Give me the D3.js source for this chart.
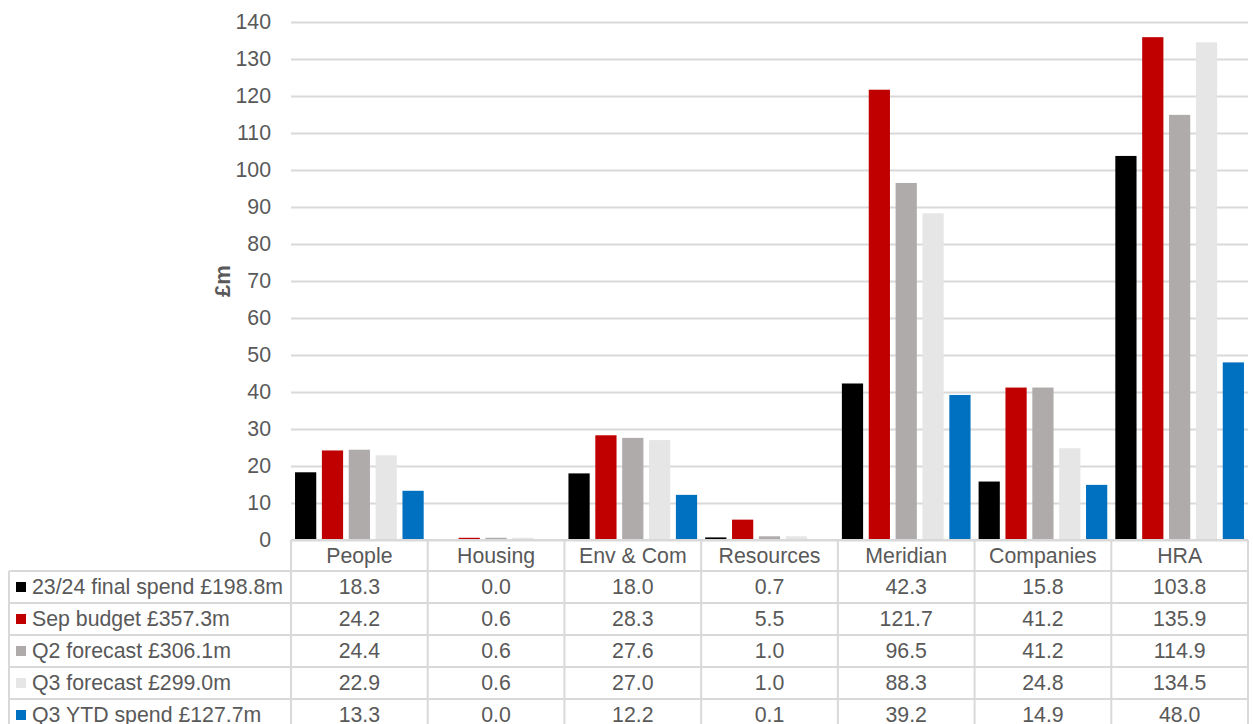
<!DOCTYPE html>
<html><head><meta charset="utf-8">
<script src="https://cdn.jsdelivr.net/npm/d3@7"></script>
<style>body{margin:0;background:#fff;}svg{display:block;font-family:"Liberation Sans",Arial,sans-serif;}</style>
</head><body>
<svg id="chart" width="1253" height="724"></svg>
<script>
const categories = ["People","Housing","Env & Com","Resources","Meridian","Companies","HRA"];
const seriesNames = ["23/24 final spend £198.8m","Sep budget £357.3m","Q2 forecast £306.1m","Q3 forecast £299.0m","Q3 YTD spend £127.7m"];
const seriesColors = ["#000000","#c00000","#afabab","#e7e6e6","#0070c0"];
const finalSpend = [18.3,0.0,18.0,0.7,42.3,15.8,103.8];
const sepBudget = [24.2,0.6,28.3,5.5,121.7,41.2,135.9];
const q2Forecast = [24.4,0.6,27.6,1.0,96.5,41.2,114.9];
const q3Forecast = [22.9,0.6,27.0,1.0,88.3,24.8,134.5];
const q3Ytd = [13.3,0.0,12.2,0.1,39.2,14.9,48.0];
const yTicks = [0,10,20,30,40,50,60,70,80,90,100,110,120,130,140];
const seriesValues = [finalSpend,sepBudget,q2Forecast,q3Forecast,q3Ytd];

(function(){
const svg = d3.select("#chart");
const textColor = "#595959", gridColor = "#d9d9d9";
const fs = "21.3px";
const pLeft = 291, pRight = 1248, pTop = 22, base = 540;
const x = d3.scaleBand().domain(categories).range([pLeft,pRight]).padding(0);
const x1 = d3.scaleBand().domain(d3.range(5)).range([0,x.bandwidth()]).paddingInner(0.21).paddingOuter(0.15);
const y = d3.scaleLinear().domain([0,140]).range([base,pTop]);

const yAxis = d3.axisLeft(y).tickValues(yTicks).tickSize(-(pRight-pLeft)).tickPadding(20);
const gy = svg.append("g").attr("transform",`translate(${pLeft},0)`).call(yAxis);
gy.select(".domain").remove();
gy.selectAll(".tick line").attr("stroke",gridColor).attr("stroke-width",2);
gy.selectAll(".tick text").attr("fill",textColor).style("font-size",fs).style("font-family","'Liberation Sans',Arial,sans-serif");

svg.append("text").attr("transform",`translate(230,${(pTop+base)/2}) rotate(-90)`)
  .attr("text-anchor","middle").attr("fill",textColor).style("font-size","22px").style("font-weight","bold").text("£m");

categories.forEach((c,ci)=>{
  const g = svg.append("g").attr("transform",`translate(${x(c)},0)`);
  seriesValues.forEach((vals,si)=>{
    const v = vals[ci];
    g.append("rect").attr("x",x1(si)).attr("width",x1.bandwidth())
      .attr("y",y(v)).attr("height",base - y(v))
      .attr("fill",seriesColors[si]);
  });
});

const rowH = 32, headerBottom = 571;
const tbl = svg.append("g");
categories.forEach(c=>{
  tbl.append("text").attr("x",x(c)+x.bandwidth()/2).attr("y",(base+headerBottom)/2+7)
    .attr("text-anchor","middle").attr("fill",textColor).style("font-size",fs).text(c);
});
seriesNames.forEach((s,si)=>{
  const ry = headerBottom + si*rowH;
  tbl.append("rect").attr("x",16).attr("y",ry+rowH/2-5).attr("width",10).attr("height",10).attr("fill",seriesColors[si]);
  tbl.append("text").attr("x",32).attr("y",ry+rowH/2+7).attr("fill",textColor).style("font-size",fs).text(s);
  categories.forEach((c,ci)=>{
    tbl.append("text").attr("x",x(c)+x.bandwidth()/2).attr("y",ry+rowH/2+7)
      .attr("text-anchor","middle").attr("fill",textColor).style("font-size",fs)
      .text(seriesValues[si][ci].toFixed(1));
  });
});
const lineStyle = sel=>sel.attr("stroke",gridColor).attr("stroke-width",2);
const tableBottom = headerBottom + 5*rowH;
categories.concat([null]).forEach((c,i)=>{
  const xx = i<categories.length ? x(c) : pRight;
  tbl.append("line").attr("x1",xx).attr("x2",xx).attr("y1",base).attr("y2",tableBottom).call(lineStyle);
});
tbl.append("line").attr("x1",9).attr("x2",9).attr("y1",headerBottom).attr("y2",tableBottom).call(lineStyle);
for(let i=0;i<=5;i++){
  const yy = headerBottom + i*rowH;
  tbl.append("line").attr("x1",9).attr("x2",pRight).attr("y1",yy).attr("y2",yy).call(lineStyle);
}
tbl.append("line").attr("x1",pLeft).attr("x2",pRight).attr("y1",base).attr("y2",base).call(lineStyle);
})();
</script>
</body></html>
